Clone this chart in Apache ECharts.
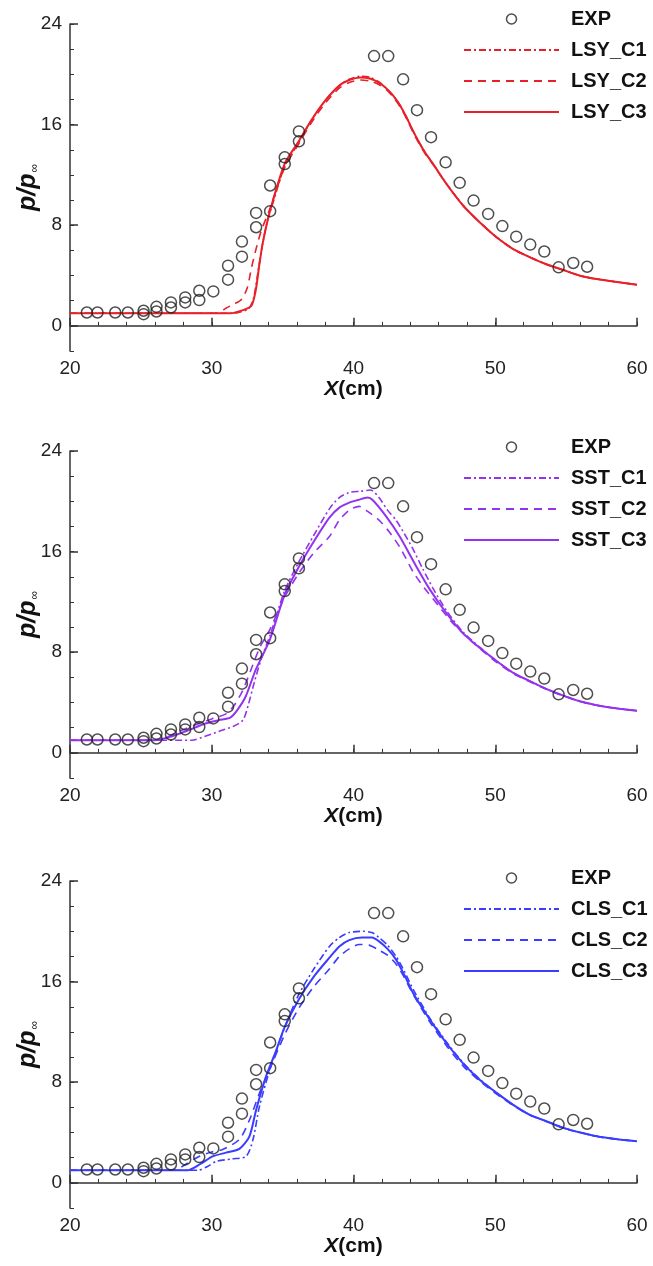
<!DOCTYPE html>
<html>
<head>
<meta charset="UTF-8">
<title>p/p∞ distributions</title>
<script src="https://cdn.jsdelivr.net/npm/echarts@6/dist/echarts.min.js"></script>
<style>
  html, body { margin: 0; padding: 0; background: #fff; }
  #main { width: 653px; height: 1266px; }
</style>
</head>
<body>
<div id="main"></div>
<script>
// experiment (same points in all three panels)
var expX = [21.19, 21.94, 23.19, 24.08, 25.19, 25.19, 26.1, 26.1, 27.12, 27.12, 28.13, 28.13,
  29.12, 29.12, 30.11, 31.15, 31.15, 32.13, 32.13, 33.13, 33.13, 34.12, 34.12, 35.15, 35.15,
  36.15, 36.15, 41.45, 42.45, 43.5, 44.48, 45.47, 46.5, 47.49, 48.47, 49.5, 50.5, 51.48,
  52.47, 53.46, 54.47, 55.5, 56.48];
var expY = [1.06, 1.06, 1.06, 1.06, 1.2, 0.93, 1.51, 1.14, 1.86, 1.46, 2.26, 1.86,
  2.79, 2.05, 2.74, 4.78, 3.67, 6.7, 5.5, 8.98, 7.84, 11.16, 9.12, 13.4, 12.86,
  15.46, 14.67, 21.45, 21.45, 19.6, 17.15, 15.0, 13.0, 11.37, 9.96, 8.9, 7.93, 7.09,
  6.46, 5.91, 4.65, 5.0, 4.7];

// LSY model
var lsyC1 = [[20, 1.0], [31.5, 1.0], [32.0, 1.1], [32.6, 1.35], [32.95, 2.2], [33.25, 4.2], [33.55, 6.3],
  [33.9, 8.2], [34.3, 9.7], [35.15, 12.7], [36.15, 14.6], [37.0, 16.3], [38.0, 17.9], [39.0, 19.1],
  [39.7, 19.6], [40.5, 19.85], [41.2, 19.75], [41.85, 19.35], [42.3, 18.9], [42.8, 18.3], [43.3, 17.5],
  [43.73, 16.6], [44.2, 15.5], [44.67, 14.5], [45.1, 13.7], [45.6, 12.9], [46.55, 11.3], [47.73, 9.57],
  [48.9, 8.24], [50.1, 7.04], [51.27, 6.1], [52.45, 5.45], [53.6, 4.9], [54.8, 4.44], [55.98, 3.99],
  [57.16, 3.72], [58.33, 3.53], [60, 3.27]];
var lsyC2 = [[20, 1.0], [30.4, 1.0], [31.0, 1.4], [31.6, 1.75], [32.1, 2.1], [32.5, 3.0], [32.8, 4.6],
  [33.1, 6.0], [33.5, 7.6], [34.0, 9.0], [35.15, 12.6], [36.15, 14.5], [37.0, 16.1], [38.0, 17.7],
  [39.0, 18.9], [39.7, 19.35], [40.5, 19.55], [41.2, 19.45], [41.85, 19.15], [42.3, 18.8], [42.8, 18.2],
  [43.3, 17.4], [43.73, 16.5], [44.2, 15.4], [44.67, 14.4], [45.1, 13.6], [45.6, 12.85], [46.55, 11.3],
  [47.73, 9.57], [48.9, 8.24], [50.1, 7.04], [51.27, 6.1], [52.45, 5.45], [53.6, 4.9], [54.8, 4.44],
  [55.98, 3.99], [57.16, 3.72], [58.33, 3.53], [60, 3.27]];
var lsyC3 = [[20, 1.0], [31.3, 1.0], [32.2, 1.25], [32.8, 1.6], [33.1, 2.8], [33.35, 4.8], [33.6, 6.6],
  [34.1, 9.1], [35.15, 12.9], [36.15, 14.7], [37.0, 16.3], [38.0, 17.9], [39.0, 19.1], [39.7, 19.55],
  [40.5, 19.75], [41.2, 19.65], [41.85, 19.3], [42.3, 18.9], [42.8, 18.3], [43.3, 17.5], [43.73, 16.6],
  [44.2, 15.5], [44.67, 14.5], [45.1, 13.7], [45.6, 12.9], [46.55, 11.3], [47.73, 9.57], [48.9, 8.24],
  [50.1, 7.04], [51.27, 6.1], [52.45, 5.45], [53.6, 4.9], [54.8, 4.44], [55.98, 3.99], [57.16, 3.72],
  [58.33, 3.53], [60, 3.27]];

// SST model
var sstC1 = [[20, 1.0], [28.6, 1.0], [29.5, 1.3], [30.5, 1.7], [31.5, 2.1], [32.2, 2.6], [32.6, 3.9],
  [33.0, 5.6], [33.5, 7.5], [34.1, 9.3], [35.15, 12.9], [36.15, 15.2], [37.2, 17.3], [38.3, 19.4],
  [39.0, 20.3], [39.7, 20.7], [40.5, 20.8], [41.2, 20.9], [41.8, 20.3], [42.4, 19.3], [43.0, 18.5],
  [43.6, 17.4], [44.2, 16.2], [44.9, 14.6], [45.6, 13.1], [46.56, 11.3], [47.73, 9.6], [48.9, 8.4],
  [50.1, 7.3], [51.27, 6.36], [52.45, 5.7], [53.6, 5.08], [54.8, 4.55], [55.98, 4.1], [57.16, 3.79],
  [58.5, 3.55], [60, 3.35]];
var sstC2 = [[20, 1.0], [26.3, 1.0], [27.2, 1.45], [28.1, 1.9], [29.0, 2.3], [30.0, 2.7], [31.0, 3.1],
  [31.6, 3.8], [32.2, 5.0], [32.8, 6.7], [33.4, 8.4], [34.1, 9.8], [35.15, 12.4], [36.15, 14.3],
  [37.2, 15.9], [38.3, 17.2], [39.0, 18.5], [39.7, 19.3], [40.4, 19.6], [41.0, 19.2], [41.8, 18.5],
  [42.5, 17.6], [43.3, 16.3], [44.2, 14.4], [45.0, 13.1], [46.0, 11.7], [47.0, 10.3], [48.0, 9.2],
  [49.0, 8.2], [50.1, 7.2], [51.27, 6.3], [52.45, 5.65], [53.6, 5.05], [54.8, 4.52], [55.98, 4.08],
  [57.16, 3.78], [58.5, 3.54], [60, 3.35]];
var sstC3 = [[20, 1.0], [26.0, 1.0], [27.0, 1.25], [27.9, 1.6], [28.8, 2.0], [29.6, 2.35], [30.5, 2.6],
  [31.3, 2.8], [31.8, 3.4], [32.4, 4.5], [33.1, 6.6], [34.1, 9.0], [35.15, 12.6], [36.15, 14.8],
  [37.2, 16.8], [38.3, 18.7], [39.0, 19.5], [39.7, 19.9], [40.3, 20.1], [41.0, 20.3], [41.35, 20.1],
  [42.3, 18.8], [43.26, 17.2], [44.44, 14.8], [45.38, 13.0], [46.56, 11.1], [47.73, 9.5], [48.9, 8.35],
  [50.1, 7.3], [51.27, 6.36], [52.45, 5.7], [53.6, 5.08], [54.8, 4.55], [55.98, 4.1], [57.16, 3.79],
  [58.5, 3.55], [60, 3.35]];

// CLS model
var clsC1 = [[20, 1.0], [29.0, 1.0], [29.7, 1.3], [30.3, 1.7], [31.4, 1.9], [32.42, 2.1], [32.9, 3.4],
  [33.37, 6.1], [34.07, 8.9], [34.6, 10.6], [35.15, 12.4], [36.15, 15.0], [37.2, 17.0], [38.3, 18.8],
  [39.0, 19.5], [39.7, 19.9], [40.67, 20.0], [41.3, 19.9], [41.8, 19.5], [42.4, 18.9], [43.0, 18.0],
  [43.6, 16.8], [44.2, 15.4], [45.38, 13.1], [46.56, 11.2], [47.73, 9.55], [48.9, 8.25], [50.1, 7.15],
  [51.27, 6.2], [52.45, 5.4], [53.6, 4.9], [54.8, 4.37], [56.0, 4.0], [57.16, 3.7], [58.5, 3.48], [60, 3.3]];
var clsC2 = [[20, 1.0], [27.3, 1.0], [28.2, 1.5], [29.1, 2.1], [30.0, 2.45], [30.77, 2.65], [31.95, 3.45],
  [32.66, 5.0], [33.37, 7.15], [34.0, 8.8], [35.15, 11.8], [36.15, 13.9], [37.2, 15.6], [38.3, 17.0],
  [39.0, 18.0], [39.7, 18.6], [40.4, 18.95], [41.1, 18.9], [41.8, 18.5], [42.4, 18.1], [43.0, 17.4],
  [43.6, 16.3], [44.2, 15.0], [45.38, 12.8], [46.56, 10.9], [47.73, 9.3], [48.9, 8.1], [50.1, 7.05],
  [51.27, 6.15], [52.45, 5.38], [53.6, 4.88], [54.8, 4.36], [56.0, 4.0], [57.16, 3.7], [58.5, 3.48], [60, 3.3]];
var clsC3 = [[20, 1.0], [28.3, 1.0], [29.2, 1.5], [30.06, 2.1], [31.0, 2.4], [31.95, 2.7], [32.66, 3.7],
  [33.13, 5.8], [33.84, 8.5], [34.5, 10.4], [35.15, 12.4], [36.15, 14.6], [37.2, 16.4], [38.3, 17.9],
  [39.0, 18.8], [39.7, 19.3], [40.6, 19.5], [41.3, 19.5], [41.8, 19.2], [42.4, 18.6], [43.0, 17.75],
  [43.6, 16.5], [44.2, 15.1], [45.38, 13.0], [46.56, 11.1], [47.73, 9.5], [48.9, 8.2], [50.1, 7.15],
  [51.27, 6.2], [52.45, 5.4], [53.6, 4.9], [54.8, 4.37], [56.0, 4.0], [57.16, 3.7], [58.5, 3.48], [60, 3.3]];

var panels = [
  { prefix: 'LSY', color: '#e8202a', curves: [lsyC1, lsyC2, lsyC3], top: 24, legendTop: 3 },
  { prefix: 'SST', color: '#9333ee', curves: [sstC1, sstC2, sstC3], top: 451, legendTop: 431 },
  { prefix: 'CLS', color: '#3a3cff', curves: [clsC1, clsC2, clsC3], top: 881, legendTop: 862 }
];
var dashes = [[7, 3, 2, 3], [8, 6], 'solid'];
var font = '"Liberation Sans", Arial, Helvetica, sans-serif';
var axisColor = '#333';

var expData = expX.map(function (x, i) { return [x, expY[i]]; });

var grid = [], xAxis = [], yAxis = [], series = [], legend = [];

panels.forEach(function (p, k) {
  grid.push({ left: 70, width: 567, top: p.top, height: 327, outerBoundsMode: 'none' });

  // main x axis: minor ticks every 2, labels every 10
  xAxis.push({
    type: 'value', gridIndex: k, min: 20, max: 60, interval: 2,
    axisLine: { lineStyle: { color: axisColor, width: 1.5 } },
    axisTick: { inside: true, length: 4, lineStyle: { color: axisColor } },
    splitLine: { show: false },
    axisLabel: {
      margin: 8, fontSize: 19, color: '#222', fontFamily: font,
      formatter: function (v) { return v % 10 === 0 ? String(v) : ''; }
    },
    name: '{i|X}{n|(cm)}', nameLocation: 'middle', nameGap: 24,
    nameTextStyle: {
      rich: {
        i: { fontSize: 21, fontWeight: 'bold', fontStyle: 'italic', color: '#111', fontFamily: font },
        n: { fontSize: 21, fontWeight: 'bold', color: '#111', fontFamily: font }
      }
    }
  });
  // major x ticks
  xAxis.push({
    type: 'value', gridIndex: k, min: 20, max: 60, position: 'bottom',
    axisLine: { show: false }, axisLabel: { show: false }, splitLine: { show: false },
    axisTick: { inside: true, length: 8, customValues: [20, 30, 40, 50, 60],
      lineStyle: { color: axisColor, width: 1.5 } }
  });

  yAxis.push({
    type: 'value', gridIndex: k, min: -2, max: 24, interval: 2,
    axisLine: { show: true, lineStyle: { color: axisColor, width: 1.5 } },
    axisTick: { show: true, inside: true, length: 4, lineStyle: { color: axisColor } },
    splitLine: { show: false },
    axisLabel: {
      margin: 8, fontSize: 19, color: '#222', fontFamily: font,
      formatter: function (v) { return v % 8 === 0 ? String(v) : ''; }
    },
    name: '{a|p/p}{s|∞}', nameLocation: 'middle', nameGap: 29, nameMoveOverlap: false,
    nameTextStyle: {
      rich: {
        a: { fontSize: 25, fontWeight: 'bold', fontStyle: 'italic', color: '#111', fontFamily: font },
        s: { fontSize: 12, color: '#111', fontFamily: font, padding: [12, 0, 0, 1] }
      }
    }
  });
  yAxis.push({
    type: 'value', gridIndex: k, min: -2, max: 24, position: 'left',
    axisLine: { show: false }, axisLabel: { show: false }, splitLine: { show: false },
    axisTick: { show: true, inside: true, length: 8, customValues: [0, 8, 16, 24],
      lineStyle: { color: axisColor, width: 1.5 } }
  });

  var names = ['EXP'];
  p.curves.forEach(function (c, j) {
    var nm = p.prefix + '_C' + (j + 1);
    names.push(nm);
    series.push({
      name: nm, type: 'line', xAxisIndex: 2 * k, yAxisIndex: 2 * k,
      data: c, smooth: 0.25, symbol: 'none', showSymbol: false,
      lineStyle: { color: p.color, width: j === 2 ? 2 : 1.6, type: dashes[j] },
      itemStyle: { color: p.color },
      z: 2
    });
  });
  series.push({
    name: 'EXP', type: 'scatter', xAxisIndex: 2 * k, yAxisIndex: 2 * k,
    data: expData, symbol: 'circle', symbolSize: 11,
    itemStyle: { color: 'rgba(0,0,0,0)', borderColor: '#222', borderWidth: 1.5 },
    z: 3
  });

  legend.push({
    orient: 'vertical', left: 458, top: p.legendTop,
    itemWidth: 95, itemHeight: 10, itemGap: 9,
    data: names.map(function (n) {
      return n === 'EXP'
        ? { name: n, icon: 'circle', itemStyle: { color: 'rgba(0,0,0,0)', borderColor: '#222', borderWidth: 1.5 } }
        : { name: n, itemStyle: { opacity: 0 } };
    }),
    selectedMode: false,
    textStyle: { fontSize: 20, fontWeight: 'bold', color: '#111', fontFamily: font,
      lineHeight: 22, padding: [0, 0, 0, 7] }
  });
});

var myChart = echarts.init(document.getElementById('main'), null, { renderer: 'canvas' });
myChart.setOption({
  animation: false,
  backgroundColor: '#fff',
  grid: grid,
  xAxis: xAxis,
  yAxis: yAxis,
  legend: legend,
  series: series
});
</script>
</body>
</html>
